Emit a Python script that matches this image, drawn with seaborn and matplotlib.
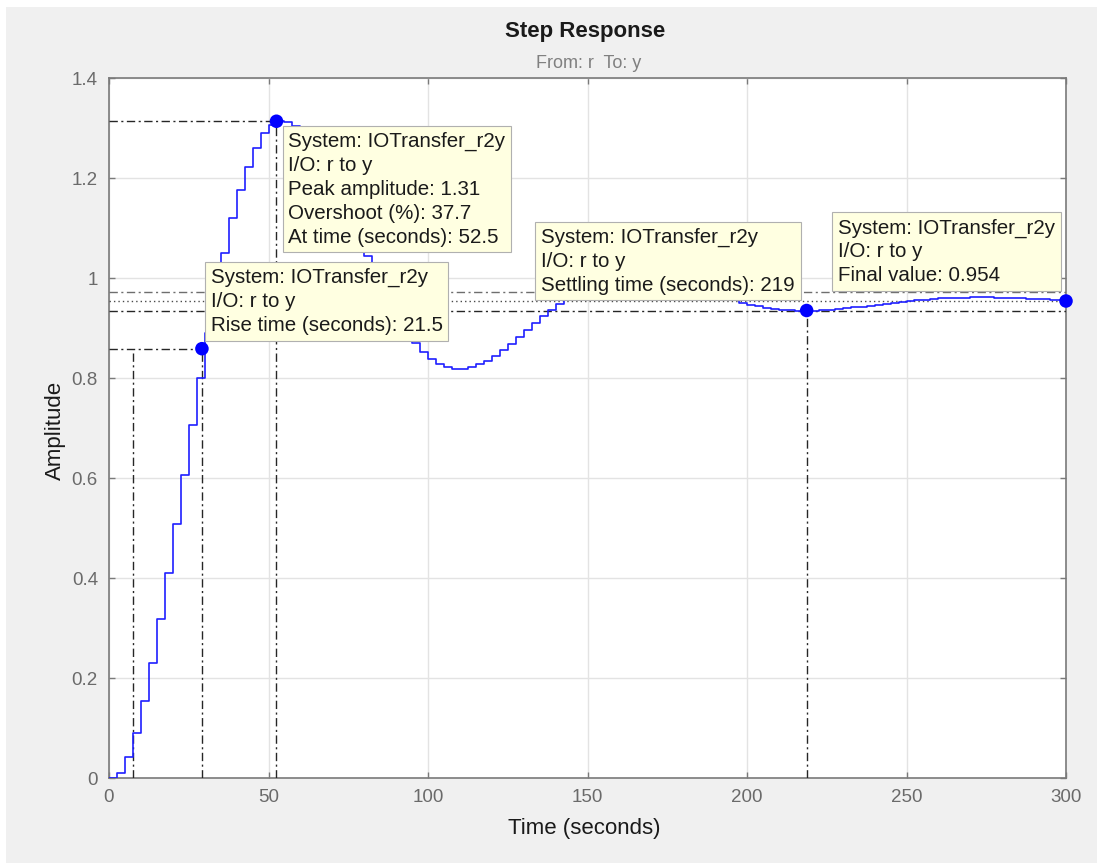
import numpy as np
import pandas as pd
import matplotlib
matplotlib.use("Agg")
import matplotlib.pyplot as plt
import seaborn as sns
from matplotlib.patches import Rectangle

# ---------------- data ----------------
sample_time = 2.5
amplitude = [
    0.000, 0.011, 0.043, 0.091, 0.154, 0.231, 0.318, 0.411, 0.509, 0.606,
    0.706, 0.800, 0.890, 0.972, 1.050, 1.120, 1.176, 1.223, 1.260, 1.290,
    1.306, 1.3135, 1.312, 1.304, 1.294, 1.275, 1.250, 1.221, 1.188, 1.153,
    1.117, 1.081, 1.044, 1.009, 0.976, 0.945, 0.917, 0.892, 0.870, 0.853,
    0.839, 0.829, 0.822, 0.819, 0.819, 0.822, 0.828, 0.835, 0.845, 0.857,
    0.869, 0.882, 0.896, 0.910, 0.924, 0.937, 0.949, 0.960, 0.971, 0.980,
    0.987, 0.994, 0.998, 1.002, 1.004, 1.005, 1.005, 1.003, 1.001, 0.998,
    0.994, 0.990, 0.985, 0.980, 0.975, 0.970, 0.965, 0.960, 0.9555, 0.9506,
    0.9469, 0.9436, 0.9408, 0.9386, 0.9369, 0.9357, 0.9350, 0.9348, 0.9350, 0.9356,
    0.9366, 0.9379, 0.9394, 0.9411, 0.9429, 0.9448, 0.9468, 0.9487, 0.9506, 0.9524,
    0.9541, 0.9557, 0.9570, 0.9582, 0.9592, 0.9600, 0.9606, 0.9610, 0.9612, 0.9612,
    0.9611, 0.9608, 0.9604, 0.9599, 0.9593, 0.9587, 0.9580, 0.9573, 0.9565, 0.9558,
    0.9551,
]
time = np.arange(len(amplitude)) * sample_time

peak_time = 52.5
peak_amplitude = 1.3135
overshoot = 37.7
rise_start = 7.67
rise_end = 29.13
rise_level = 0.8586
rise_time = 21.5
settling_time = 218.7
settling_lower = 0.935
settling_upper = 0.973
final_value = 0.954
final_time = 300
settling_label = 219

x_ticks = [0, 50, 100, 150, 200, 250, 300]
y_ticks = [0, 0.2, 0.4, 0.6, 0.8, 1.0, 1.2, 1.4]
y_tick_labels = ["0", "0.2", "0.4", "0.6", "0.8", "1", "1.2", "1.4"]

# ---------------- style ----------------
sns.set_style("white")
plt.rcParams["font.family"] = ["Liberation Sans", "DejaVu Sans"]

W, H = 1097, 863
fig = plt.figure(figsize=(W / 100, H / 100), dpi=100, facecolor="#f0f0f0")
fig.patches.append(Rectangle((0, 1 - 7 / H), 1, 7 / H, transform=fig.transFigure,
                             facecolor="white", edgecolor="none", zorder=0))
fig.patches.append(Rectangle((0, 0), 6 / W, 1, transform=fig.transFigure,
                             facecolor="white", edgecolor="none", zorder=0))

ax = fig.add_axes([109 / W, 1 - 778 / H, (1066 - 109) / W, (778 - 78) / H])
ax.set_facecolor("white")

df = pd.DataFrame({"Time": time, "Amplitude": amplitude})
sns.lineplot(data=df, x="Time", y="Amplitude", ax=ax, color="#1f1fff", lw=1.2,
             drawstyle="steps-post", estimator=None, sort=False, zorder=4)

dashdot = (0, (6, 2.5, 1.5, 2.5))
kw = dict(color="#262626", lw=1.0, linestyle=dashdot, zorder=3)
# peak response
ax.hlines(peak_amplitude, 0, peak_time, **kw)
ax.vlines(peak_time, 0, peak_amplitude, **kw)
# rise time
ax.hlines(rise_level, 0, rise_end, **kw)
ax.vlines(rise_end, 0, rise_level, **kw)
ax.vlines(rise_start, 0, rise_level, **kw)
# settling time
ax.vlines(settling_time, 0, settling_lower, **kw)
ax.hlines(settling_lower, 0, final_time, **kw)
ax.hlines(settling_upper, 0, final_time, color="#6e6e6e", lw=1.0, linestyle=dashdot, zorder=3)
ax.hlines(final_value, 0, final_time, color="#4a4a4a", lw=1.0, linestyle=(0, (1, 2.2)), zorder=3)

markers = pd.DataFrame({
    "t": [rise_end, peak_time, settling_time, final_time],
    "a": [rise_level, peak_amplitude, settling_lower, final_value],
})
sns.scatterplot(data=markers, x="t", y="a", ax=ax, color="#0000ff", s=95,
                edgecolor="none", zorder=6, clip_on=False)

box = dict(boxstyle="square,pad=0.28", fc="#ffffe1", ec="#b0b0b0", lw=0.8)
tip_kw = dict(textcoords="offset pixels", fontsize=14.8, color="#1a1a1a",
              linespacing=1.32, multialignment="left", bbox=box, zorder=7,
              annotation_clip=False)
pad = 5.8
ax.annotate("System: IOTransfer_r2y\nI/O: r to y\n"
            f"Peak amplitude: {peak_amplitude:.2f}\nOvershoot (%): {overshoot}\n"
            f"At time (seconds): {peak_time}",
            xy=(peak_time, peak_amplitude), xytext=(6 + pad, -5 - pad),
            ha="left", va="top", **tip_kw)
ax.annotate(f"System: IOTransfer_r2y\nI/O: r to y\nRise time (seconds): {rise_time}",
            xy=(rise_end, rise_level), xytext=(3 + pad, 8 + pad),
            ha="left", va="bottom", **tip_kw)
ax.annotate(f"System: IOTransfer_r2y\nI/O: r to y\nSettling time (seconds): {settling_label}",
            xy=(settling_time, settling_lower), xytext=(-6 - pad, 10 + pad),
            ha="right", va="bottom", **tip_kw)
ax.annotate(f"System: IOTransfer_r2y\nI/O: r to y\nFinal value: {final_value}",
            xy=(final_time, final_value), xytext=(-5 - pad, 10 + pad),
            ha="right", va="bottom", **tip_kw)

ax.set_xlim(0, 300)
ax.set_ylim(0, 1.4)
ax.set_xticks(x_ticks)
ax.set_xticklabels([str(v) for v in x_ticks])
ax.set_yticks(y_ticks)
ax.set_yticklabels(y_tick_labels)
ax.grid(True, color="#e3e3e3", lw=1.0, zorder=0)
ax.set_axisbelow(True)
ax.tick_params(direction="in", length=4, width=1, color="#7a7a7a", labelcolor="#6a6a6a",
               labelsize=13.5, pad=8, top=True, right=True, bottom=True, left=True)
for s in ax.spines.values():
    s.set_color("#7a7a7a")
    s.set_linewidth(1.2)
    s.set_visible(True)
ax.set_xlabel("")
ax.set_ylabel("")

fig.text(584 / W, 1 - 828 / H, "Time (seconds)", ha="center", va="center",
         fontsize=16, color="#1a1a1a")
fig.text(55 / W, 1 - 430 / H, "Amplitude", ha="center", va="center",
         rotation=90, fontsize=16, color="#1a1a1a")
fig.text(585 / W, 1 - 31 / H, "Step Response", ha="center", va="center",
         fontsize=16, fontweight="bold", color="#1a1a1a")
fig.text(589 / W, 1 - 63 / H, "From: r  To: y", ha="center", va="center",
         fontsize=13, color="#808080")

fig.savefig("out.png", dpi=100, facecolor=fig.get_facecolor())
